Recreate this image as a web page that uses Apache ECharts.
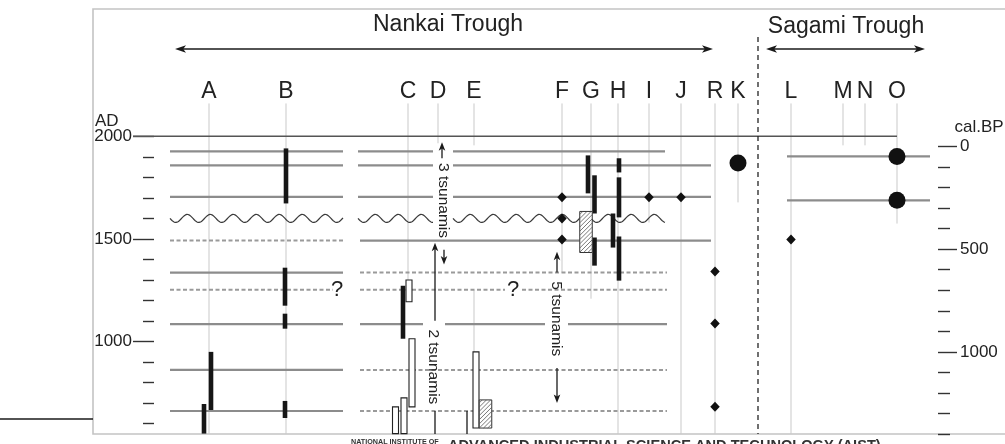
<!DOCTYPE html>
<html><head><meta charset="utf-8">
<script src="https://cdn.jsdelivr.net/npm/echarts@6/dist/echarts.min.js"></script>
<style>html,body{margin:0;padding:0;background:#fff}#chart{width:1005px;height:444px}</style>
</head><body><div id="chart"></div>
<script>
// ---------------- data (x = position along coast, y = calendar year AD) ----------------
const siteNames = ['A','B','C','D','E','F','G','H','I','J','R','K','L','M','N','O'];
const sitePositions = [116,193,315,345,381,469,498,525,556,588,622,645,698,750,772,804];
const siteRecordTop = 2160;
const siteRecordBottom = [550,550,1280,1966,1956,1336,1209,550,1580,550,550,1678,550,1956,1956,1575];
const siteExtraSegments = [[381,1250,945]];          // [position, topYear, bottomYear]

const adMajorTicks = [1000,1500,2000];
const adMinorTicks = [600,700,800,900,1100,1200,1300,1400,1600,1700,1800,1900];
const bpMajorTicks = [0,500,1000];
const bpMinorTicks = [100,200,300,400,600,700,800,900,1100,1200,1300,1400];

// historical earthquake lines: [fromPos, toPos, year, kind]
const eventSegments = [
  [77,250,1927,'solid'],[77,250,1858,'solid'],[77,250,1705,'solid'],[77,250,1600,'wavy'],
  [77,250,1492,'dashed'],[77,250,1336,'solid'],[77,240,1253,'dashed'],[77,250,1085,'solid'],
  [77,250,862,'solid'],[77,250,662,'solid'],
  [265,340,1927,'solid'],[360,572,1927,'solid'],
  [265,340,1858,'solid'],[360,618,1858,'solid'],
  [265,340,1705,'solid'],[360,618,1705,'solid'],
  [265,340,1600,'wavy'],[360,572,1600,'wavy'],
  [267,618,1492,'solid'],
  [267,574,1336,'dashed'],
  [267,412,1253,'dashed'],[429,574,1253,'dashed'],
  [267,330,1085,'solid'],[352,452,1085,'solid'],[475,574,1085,'solid'],
  [267,574,862,'dashed'],
  [267,574,662,'dashed'],
  [694,837,1902,'solid'],[694,837,1688,'solid']
];
const modernLine = [[40,2000],[804,2000]];

// age ranges: [position, youngYear, oldYear]
const blackRanges = [
  [193,1941,1673],[192,1360,1175],[192,1136,1063],[192,711,628],
  [118,950,667],[111,696,552],
  [310,1272,1014],
  [495,1907,1722],[501.5,1810,1624],[501.5,1507,1370],
  [526,1893,1824],[526,1800,1605],[520,1624,1458],[526,1512,1297]
];
const openRanges = [[316,1300,1194],[319,1014,682],[311,726,552],[302.5,682,552],[383,950,579]];
const hatchedRanges = [[392.5,716,579],[493,1634,1434]];

const diamondPoints = [[469,1703],[469,1600],[469,1497],[556,1703],[588,1703],[622,1341],[622,1088],[622,683],[698,1497]];
const circlePoints = [[645,1870],[804,1902],[804,1688]];

// arrows: [x1,y1,x2,y2,headAtStart,headAtEnd]
const troughArrows = [[82,2425,620,2425,1,1],[673,2425,832,2425,1,1]];
const tsunamiArrows = [
  [349,1893,349,1971,0,1],[351,1448,351,1375,0,1],
  [342,1102,342,1482,0,1],[342,662,342,550,0,0],[374,662,374,550,0,0],
  [464,1336,464,1438,0,1],[464,872,464,701,0,1],
  [-93,623,0,623,0,0]
];
const dividerLine = [[665,2484],[665,550]];

const siteLabelYear = 2215;
const annotations = [
  {text:'Nankai Trough', x:355, y:2542, size:23},
  {text:'Sagami Trough', x:753, y:2532, size:23},
  {text:'AD', x:2, y:2073, size:17, align:'left'},
  {text:'cal.BP', x:886, y:2044, size:17},
  {text:'?', x:244, y:1253, size:22},
  {text:'?', x:420, y:1253, size:22},
  {text:'3 tsunamis', x:350, y:1687, size:15.5, rotate:-90},
  {text:'2 tsunamis', x:340, y:877, size:15.5, rotate:-90},
  {text:'5 tsunamis', x:463, y:1111, size:15.5, rotate:-90}
];
siteNames.forEach((n,i)=>annotations.push({text:n, x:sitePositions[i], y:siteLabelYear, size:23}));

// ---------------- chart ----------------
const FONT = '"Liberation Sans", Arial, Helvetica, sans-serif';
const chart = echarts.init(document.getElementById('chart'), null, {renderer:'canvas'});

const siteLineData = sitePositions.map((p,i)=>[p, siteRecordTop, siteRecordBottom[i]]).concat(siteExtraSegments);

function vLine(api, d, style){
  const a = api.coord([d[0], d[1]]), b = api.coord([d[0], d[2]]);
  return {type:'line', shape:{x1:a[0],y1:a[1],x2:b[0],y2:b[1]}, style};
}
function rangeRect(api, d, w){
  const a = api.coord([d[0], d[1]]), b = api.coord([d[0], d[2]]);
  return {x:a[0]-w/2, y:Math.min(a[1],b[1]), width:w, height:Math.abs(b[1]-a[1])};
}
function arrowHead(tip, from, len, hw){
  const dx=tip[0]-from[0], dy=tip[1]-from[1], L=Math.hypot(dx,dy)||1, ux=dx/L, uy=dy/L;
  const bx=tip[0]-ux*len, by=tip[1]-uy*len, notch=len*0.25;
  return {type:'polygon', shape:{points:[[tip[0],tip[1]],[bx-uy*hw,by+ux*hw],[tip[0]-ux*(len-notch),tip[1]-uy*(len-notch)],[bx+uy*hw,by-ux*hw]]}, style:{fill:'#1a1a1a'}};
}
function arrowSeries(list, len, hw, width){
  return {type:'custom', coordinateSystem:'cartesian2d', clip:false, silent:true, z:6,
    data:list.map(a=>[a[0],a[1]]),
    renderItem(params, api){
      const a = list[params.dataIndex];
      const p1 = api.coord([a[0],a[1]]), p2 = api.coord([a[2],a[3]]);
      const dx=p2[0]-p1[0], dy=p2[1]-p1[1], L=Math.hypot(dx,dy)||1, ux=dx/L, uy=dy/L;
      const s = a[4] ? [p1[0]+ux*len*0.5, p1[1]+uy*len*0.5] : p1;
      const e = a[5] ? [p2[0]-ux*len*0.5, p2[1]-uy*len*0.5] : p2;
      const children = [{type:'line', shape:{x1:s[0],y1:s[1],x2:e[0],y2:e[1]}, style:{stroke:'#1a1a1a', lineWidth:width}}];
      if (a[4]) children.push(arrowHead(p1,p2,len,hw));
      if (a[5]) children.push(arrowHead(p2,p1,len,hw));
      return {type:'group', children};
    }};
}
const plainNumber = v => String(v);

const option = {
  animation:false,
  backgroundColor:'#ffffff',
  grid:{left:93, top:9, right:-3, bottom:10, show:true, borderColor:'#c4c4c4', borderWidth:1.6, backgroundColor:'transparent', containLabel:false, outerBoundsMode:'none'},
  xAxis:{type:'value', min:0, max:915, show:false},
  yAxis:[
    {type:'value', min:550, max:2620, position:'left', offset:-61,
      axisLine:{show:false}, splitLine:{show:false},
      axisTick:{show:true, length:21, customValues:adMajorTicks, lineStyle:{color:'#333', width:1.4}},
      axisLabel:{show:true, customValues:adMajorTicks, formatter:plainNumber, margin:22, color:'#222', fontSize:17, fontFamily:FONT}},
    {type:'value', min:550, max:2620, position:'left', offset:-61,
      axisLine:{show:false}, splitLine:{show:false},
      axisTick:{show:true, length:11, customValues:adMinorTicks, lineStyle:{color:'#333', width:1.4}},
      axisLabel:{show:false}},
    {type:'value', min:1950-2620, max:1950-550, inverse:true, position:'right', offset:-70,
      axisLine:{show:false}, splitLine:{show:false},
      axisTick:{show:true, length:19, customValues:bpMajorTicks, lineStyle:{color:'#333', width:1.4}},
      axisLabel:{show:true, customValues:bpMajorTicks, formatter:plainNumber, margin:22, color:'#222', fontSize:17, fontFamily:FONT}},
    {type:'value', min:1950-2620, max:1950-550, inverse:true, position:'right', offset:-70,
      axisLine:{show:false}, splitLine:{show:false},
      axisTick:{show:true, length:12, customValues:bpMinorTicks, lineStyle:{color:'#333', width:1.4}},
      axisLabel:{show:false}}
  ],
  graphic:[
    {type:'text', left:351, top:438.5, silent:true, style:{text:'NATIONAL INSTITUTE OF', font:'bold 7.2px '+FONT, fill:'#333'}},
    {type:'text', left:448, top:438, silent:true, style:{text:'ADVANCED INDUSTRIAL SCIENCE AND TECHNOLOGY (AIST)', font:'bold 14.6px '+FONT, fill:'#333'}}
  ],
  series:[
    // site record lines
    {type:'custom', coordinateSystem:'cartesian2d', silent:true, z:1,
      data:siteLineData.map(d=>[d[0],d[1]]),
      renderItem(params, api){ return vLine(api, siteLineData[params.dataIndex], {stroke:'#c9c9c9', lineWidth:1}); }},
    // AD 2000 reference line
    {type:'line', data:modernLine, symbol:'none', silent:true, z:2, lineStyle:{color:'#555', width:1.6}},
    // historical earthquake lines
    {type:'custom', coordinateSystem:'cartesian2d', silent:true, z:2,
      data:eventSegments.map(d=>[d[0],d[2]]),
      renderItem(params, api){
        const d = eventSegments[params.dataIndex];
        const a = api.coord([d[0],d[2]]), b = api.coord([d[1],d[2]]);
        if (d[3]==='wavy'){
          const pts=[]; const P=23, A=4;
          for (let x=a[0]; x<=b[0]; x+=1) pts.push([x, a[1]+A*Math.sin(2*Math.PI*(x-a[0])/P)]);
          return {type:'polyline', shape:{points:pts}, style:{stroke:'#3a3a3a', lineWidth:1.2, fill:null}};
        }
        const style = d[3]==='dashed' ? {stroke:'#9a9a9a', lineWidth:2, lineDash:[4,2.5]} : {stroke:'#8c8c8c', lineWidth:2.2};
        return {type:'line', shape:{x1:a[0],y1:a[1],x2:b[0],y2:b[1]}, style};
      }},
    // divider between troughs
    {type:'line', data:dividerLine, symbol:'none', silent:true, z:3, lineStyle:{color:'#222', width:1.3, type:[5,4]}},
    // black age ranges
    {type:'custom', coordinateSystem:'cartesian2d', silent:true, z:4,
      data:blackRanges.map(d=>[d[0],d[1]]),
      renderItem(params, api){ return {type:'rect', shape:rangeRect(api, blackRanges[params.dataIndex], 4.6), style:{fill:'#161616'}}; }},
    // open age ranges
    {type:'custom', coordinateSystem:'cartesian2d', silent:true, z:4,
      data:openRanges.map(d=>[d[0],d[1]]),
      renderItem(params, api){ return {type:'rect', shape:rangeRect(api, openRanges[params.dataIndex], 6), style:{fill:'#fff', stroke:'#222', lineWidth:1.1}}; }},
    // hatched age ranges
    {type:'custom', coordinateSystem:'cartesian2d', silent:true, z:4,
      data:hatchedRanges.map(d=>[d[0],d[1]]),
      renderItem(params, api){
        const r = rangeRect(api, hatchedRanges[params.dataIndex], 12.5);
        const x0=r.x, x1=r.x+r.width, yt=r.y, yb=r.y+r.height;
        const children=[{type:'rect', shape:r, style:{fill:'#fff', stroke:'#333', lineWidth:1}}];
        for (let c=x0+yt+3; c<x1+yb; c+=4.2){
          const xa=Math.max(x0, c-yb), xb=Math.min(x1, c-yt);
          if (xb>xa) children.push({type:'line', shape:{x1:xa,y1:c-xa,x2:xb,y2:c-xb}, style:{stroke:'#555', lineWidth:0.8}});
        }
        return {type:'group', children};
      }},
    // diamonds
    {type:'scatter', data:diamondPoints, symbol:'diamond', symbolSize:[9.5,10], silent:true, z:5, itemStyle:{color:'#111', opacity:1}},
    // circles
    {type:'scatter', data:circlePoints, symbol:'circle', symbolSize:17, silent:true, z:5, itemStyle:{color:'#111', opacity:1}},
    // arrows
    arrowSeries(troughArrows, 11, 3.8, 1.5),
    arrowSeries(tsunamiArrows, 8.5, 3.3, 1.3),
    // texts
    {type:'custom', coordinateSystem:'cartesian2d', clip:false, silent:true, z:7,
      data:annotations.map(a=>[a.x,a.y]),
      renderItem(params, api){
        const a = annotations[params.dataIndex];
        const p = api.coord([a.x,a.y]);
        return {type:'text', x:p[0], y:p[1], rotation:(a.rotate||0)*Math.PI/180,
          style:{text:a.text, x:0, y:0, fill:'#222', font:a.size+'px '+FONT, align:a.align||'center', verticalAlign:'middle'}};
      }}
  ]
};
chart.setOption(option);
</script></body></html>
